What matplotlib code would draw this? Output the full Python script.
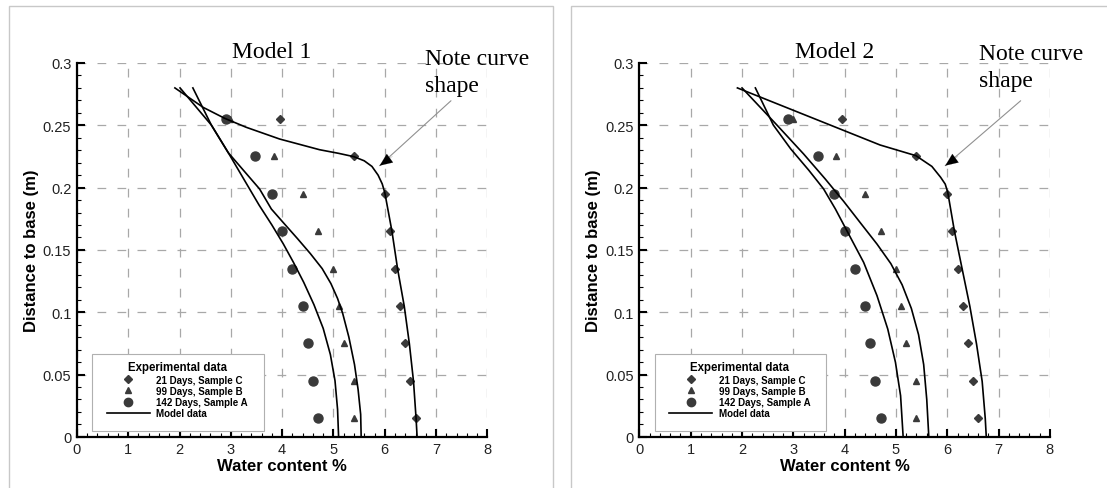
import matplotlib
matplotlib.use("Agg")
import matplotlib.pyplot as plt
from matplotlib.lines import Line2D
from matplotlib.patches import Rectangle
from matplotlib.ticker import MultipleLocator

# experimental data (same for both panels)
depth = [0.255, 0.225, 0.195, 0.165, 0.135, 0.105, 0.075, 0.045, 0.015]
day21_c = [3.95, 5.4, 6.0, 6.1, 6.2, 6.3, 6.4, 6.5, 6.6]
day99_b = [2.99, 3.84, 4.4, 4.7, 5.0, 5.1, 5.2, 5.4, 5.4]
day142_a = [2.9, 3.48, 3.8, 4.0, 4.2, 4.4, 4.5, 4.6, 4.7]

# model 1 curves
m1_c_x = [1.91, 2.46, 2.88, 3.30, 3.95, 4.73, 5.10, 5.40, 5.60, 5.75, 5.87, 5.95, 6.0, 6.14, 6.25, 6.38, 6.48, 6.56, 6.61, 6.63]
m1_c_y = [0.280, 0.2644, 0.2556, 0.2484, 0.239, 0.2304, 0.2275, 0.2248, 0.2215, 0.2170, 0.2100, 0.2030, 0.1960, 0.1649, 0.1347, 0.1047, 0.0745, 0.0445, 0.0148, 0.0]
m1_b_x = [2.01, 2.62, 2.95, 3.56, 3.79, 4.02, 4.30, 4.55, 4.78, 4.95, 5.08, 5.18, 5.30, 5.41, 5.48, 5.53, 5.54]
m1_b_y = [0.280, 0.2502, 0.228, 0.1989, 0.1828, 0.172, 0.159, 0.147, 0.135, 0.123, 0.111, 0.099, 0.080, 0.058, 0.038, 0.018, 0.0]
m1_a_x = [2.26, 2.62, 2.95, 3.25, 3.55, 3.80, 4.02, 4.22, 4.42, 4.62, 4.80, 4.94, 5.03, 5.08, 5.10]
m1_a_y = [0.280, 0.2502, 0.228, 0.207, 0.186, 0.170, 0.155, 0.140, 0.124, 0.106, 0.087, 0.066, 0.045, 0.022, 0.0]

# model 2 curves
m2_c_x = [1.91, 4.69, 5.39, 5.70, 5.87, 5.96, 6.01, 6.14, 6.29, 6.44, 6.57, 6.68, 6.74, 6.76]
m2_c_y = [0.280, 0.2342, 0.2256, 0.2170, 0.2083, 0.2028, 0.1961, 0.1649, 0.1347, 0.1047, 0.0745, 0.0445, 0.0148, 0.0]
m2_b_x = [2.0, 2.68, 3.20, 3.62, 3.98, 4.32, 4.63, 4.90, 5.12, 5.30, 5.44, 5.54, 5.60, 5.64]
m2_b_y = [0.280, 0.2502, 0.227, 0.207, 0.189, 0.171, 0.1547, 0.139, 0.122, 0.103, 0.082, 0.058, 0.030, 0.0]
m2_a_x = [2.26, 2.61, 2.95, 3.30, 3.59, 3.82, 4.01, 4.37, 4.63, 4.84, 4.99, 5.09, 5.14]
m2_a_y = [0.280, 0.2502, 0.2310, 0.2140, 0.1989, 0.1828, 0.168, 0.140, 0.1133, 0.0865, 0.0598, 0.033, 0.0]

x_ticks = [0, 1, 2, 3, 4, 5, 6, 7, 8]
y_ticks = [0, 0.05, 0.1, 0.15, 0.2, 0.25, 0.3]
y_labels = ["0", "0.05", "0.1", "0.15", "0.2", "0.25", "0.3"]
legend_labels = ["21 Days, Sample C", "99 Days, Sample B", "142 Days, Sample A", "Model data"]

plt.rcParams["font.family"] = ["Liberation Sans", "DejaVu Sans"]

fig = plt.figure(figsize=(11.07, 4.89), dpi=100)

# light grey panel frames
fig.patches.append(Rectangle((8.5 / 1107, -0.01), (553 - 8.5) / 1107, 1 - 7 / 489 + 0.01,
                             transform=fig.transFigure, fill=False, ec="#c8c8c8", lw=1))
fig.patches.append(Rectangle((570.5 / 1107, -0.01), 0.5, 1 - 7 / 489 + 0.01,
                             transform=fig.transFigure, fill=False, ec="#c8c8c8", lw=1))

mcol = "#3a3a3a"


def panel(left, title, note_x, note_y, arrow_tail, arrow_tip, curves):
    ax = fig.add_axes([left, 51.2 / 489, 410.5 / 1107, 373.8 / 489])
    ax.set_xlim(0, 8)
    ax.set_ylim(0, 0.3)
    ax.set_xticks(x_ticks)
    ax.set_yticks(y_ticks)
    ax.set_yticklabels(y_labels)
    ax.xaxis.set_minor_locator(MultipleLocator(0.2))
    ax.yaxis.set_minor_locator(MultipleLocator(0.01))
    ax.tick_params(which="major", direction="in", length=6, width=1.5, labelsize=10.5,
                   labelcolor="#222222", pad=4)
    ax.tick_params(which="minor", direction="in", length=3, width=0.8)
    for s in ["top", "right"]:
        ax.spines[s].set_visible(False)
    for s in ["left", "bottom"]:
        ax.spines[s].set_linewidth(1.6)
    ax.grid(True, which="major", color="#a8a8a8", lw=0.9, ls=(0, (7, 9)))
    ax.set_axisbelow(True)

    ax.plot(day21_c, depth, ls="none", marker="D", ms=4.5, color=mcol)
    ax.plot(day99_b, depth, ls="none", marker="^", ms=5, color=mcol)
    ax.plot(day142_a, depth, ls="none", marker="o", ms=6.5, color=mcol)
    for cx, cy in curves:
        ax.plot(cx, cy, color="black", lw=1.2)

    ax.set_xlabel("Water content %", fontsize=12, fontweight="bold", labelpad=1)
    ax.set_ylabel("Distance to base (m)", fontsize=12, fontweight="bold", labelpad=3)

    ax.text(3.8, 0.3046, title, ha="center", va="baseline", fontsize=17,
            family="Liberation Serif", clip_on=False)
    ax.text(note_x, note_y, "Note curve", ha="left", va="baseline", fontsize=17,
            family="Liberation Serif", clip_on=False)
    ax.text(note_x, note_y - 0.0215, "shape", ha="left", va="baseline", fontsize=17,
            family="Liberation Serif", clip_on=False)
    ax.annotate("", xy=arrow_tip, xytext=arrow_tail, annotation_clip=False,
                arrowprops=dict(arrowstyle="-", color="#909090", lw=0.8,
                                shrinkA=0, shrinkB=0))
    ax.annotate("", xy=arrow_tip, xytext=(arrow_tip[0] + 0.25, arrow_tip[1] + 0.0075),
                annotation_clip=False,
                arrowprops=dict(arrowstyle="-|>,head_length=0.9,head_width=0.38",
                                color="black", lw=0.1, shrinkA=0, shrinkB=0))

    # legend frame drawn separately so its size matches the original box
    ax.add_patch(Rectangle((0.037, 0.016), 0.418, 0.205, transform=ax.transAxes,
                           fill=True, fc="white", ec="#b0b0b0", lw=0.8, zorder=4))
    handles = [
        Line2D([], [], ls="none", marker="D", ms=4, color=mcol),
        Line2D([], [], ls="none", marker="^", ms=4.5, color=mcol),
        Line2D([], [], ls="none", marker="o", ms=6, color=mcol),
        Line2D([], [], color="black", lw=1.2),
    ]
    leg = ax.legend(handles, legend_labels, title="Experimental data", loc="lower left",
                    bbox_to_anchor=(0.073, 0.05), borderaxespad=0,
                    prop={"size": 7, "weight": "bold"},
                    title_fontproperties={"size": 8.3, "weight": "bold"},
                    handlelength=4.4, handletextpad=0.7, labelspacing=0.12,
                    borderpad=0, frameon=False)
    leg.set_zorder(5)
    return ax


panel(76.9 / 1107, "Model 1", 6.78, 0.2992, (7.29, 0.2697), (5.90, 0.2176),
      [(m1_c_x, m1_c_y), (m1_b_x, m1_b_y), (m1_a_x, m1_a_y)])
panel(639.4 / 1107, "Model 2", 6.62, 0.3034, (7.43, 0.2697), (5.96, 0.2176),
      [(m2_c_x, m2_c_y), (m2_b_x, m2_b_y), (m2_a_x, m2_a_y)])

fig.savefig("out.png", dpi=100)
